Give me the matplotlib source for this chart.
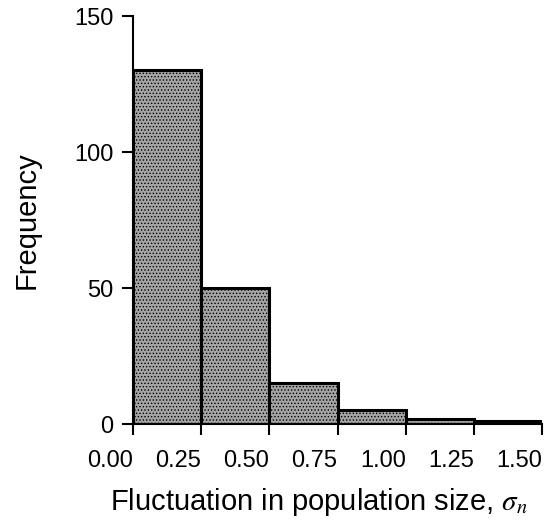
import matplotlib
matplotlib.use("Agg")
import matplotlib.pyplot as plt
import matplotlib.transforms as mtransforms
import numpy as np

bin_edges = [0.0, 0.25, 0.5, 0.75, 1.0, 1.25, 1.5]
frequencies = [130, 50, 15, 5, 2, 1]
x_ticks = [0.0, 0.25, 0.5, 0.75, 1.0, 1.25, 1.5]
x_tick_labels = ["0.00", "0.25", "0.50", "0.75", "1.00", "1.25", "1.50"]
y_ticks = [0, 50, 100, 150]

plt.rcParams['font.family'] = ['Liberation Sans', 'DejaVu Sans']
plt.rcParams['mathtext.fontset'] = 'stix'
plt.rcParams['hatch.color'] = '#6e6e6e'
plt.rcParams['hatch.linewidth'] = 0.6

fig = plt.figure(figsize=(5.49, 5.2), dpi=100)
ax = fig.add_axes([0.2423, 0.1846, 0.745, 0.7846])

lefts = np.array(bin_edges[:-1])
widths = np.diff(bin_edges)
ax.bar(lefts, frequencies, width=widths, align='edge', color='#a4a4a4',
       edgecolor='black', linewidth=2.2, hatch='.....')

ax.set_xlim(0, 1.5)
ax.set_ylim(0, 150)
ax.set_xticks(x_ticks)
ax.set_xticklabels(x_tick_labels)
ax.set_yticks(y_ticks)
for s in ['top', 'right']:
    ax.spines[s].set_visible(False)
for s in ['left', 'bottom']:
    ax.spines[s].set_linewidth(1.5)
ax.tick_params(axis='both', direction='out', length=8, width=1.5, labelsize=17)
ax.tick_params(axis='y', pad=6)
ax.tick_params(axis='x', pad=11)

shift = mtransforms.ScaledTranslation(-0.23, 0, fig.dpi_scale_trans)
for lab in ax.get_xticklabels():
    lab.set_transform(lab.get_transform() + shift)

ax.set_xlabel(r'Fluctuation in population size, $\sigma_n$', fontsize=21, labelpad=10)
ax.xaxis.label.set_x(0.455)
ax.set_ylabel('Frequency', fontsize=21, labelpad=24)

fig.savefig('out.png', dpi=100)
